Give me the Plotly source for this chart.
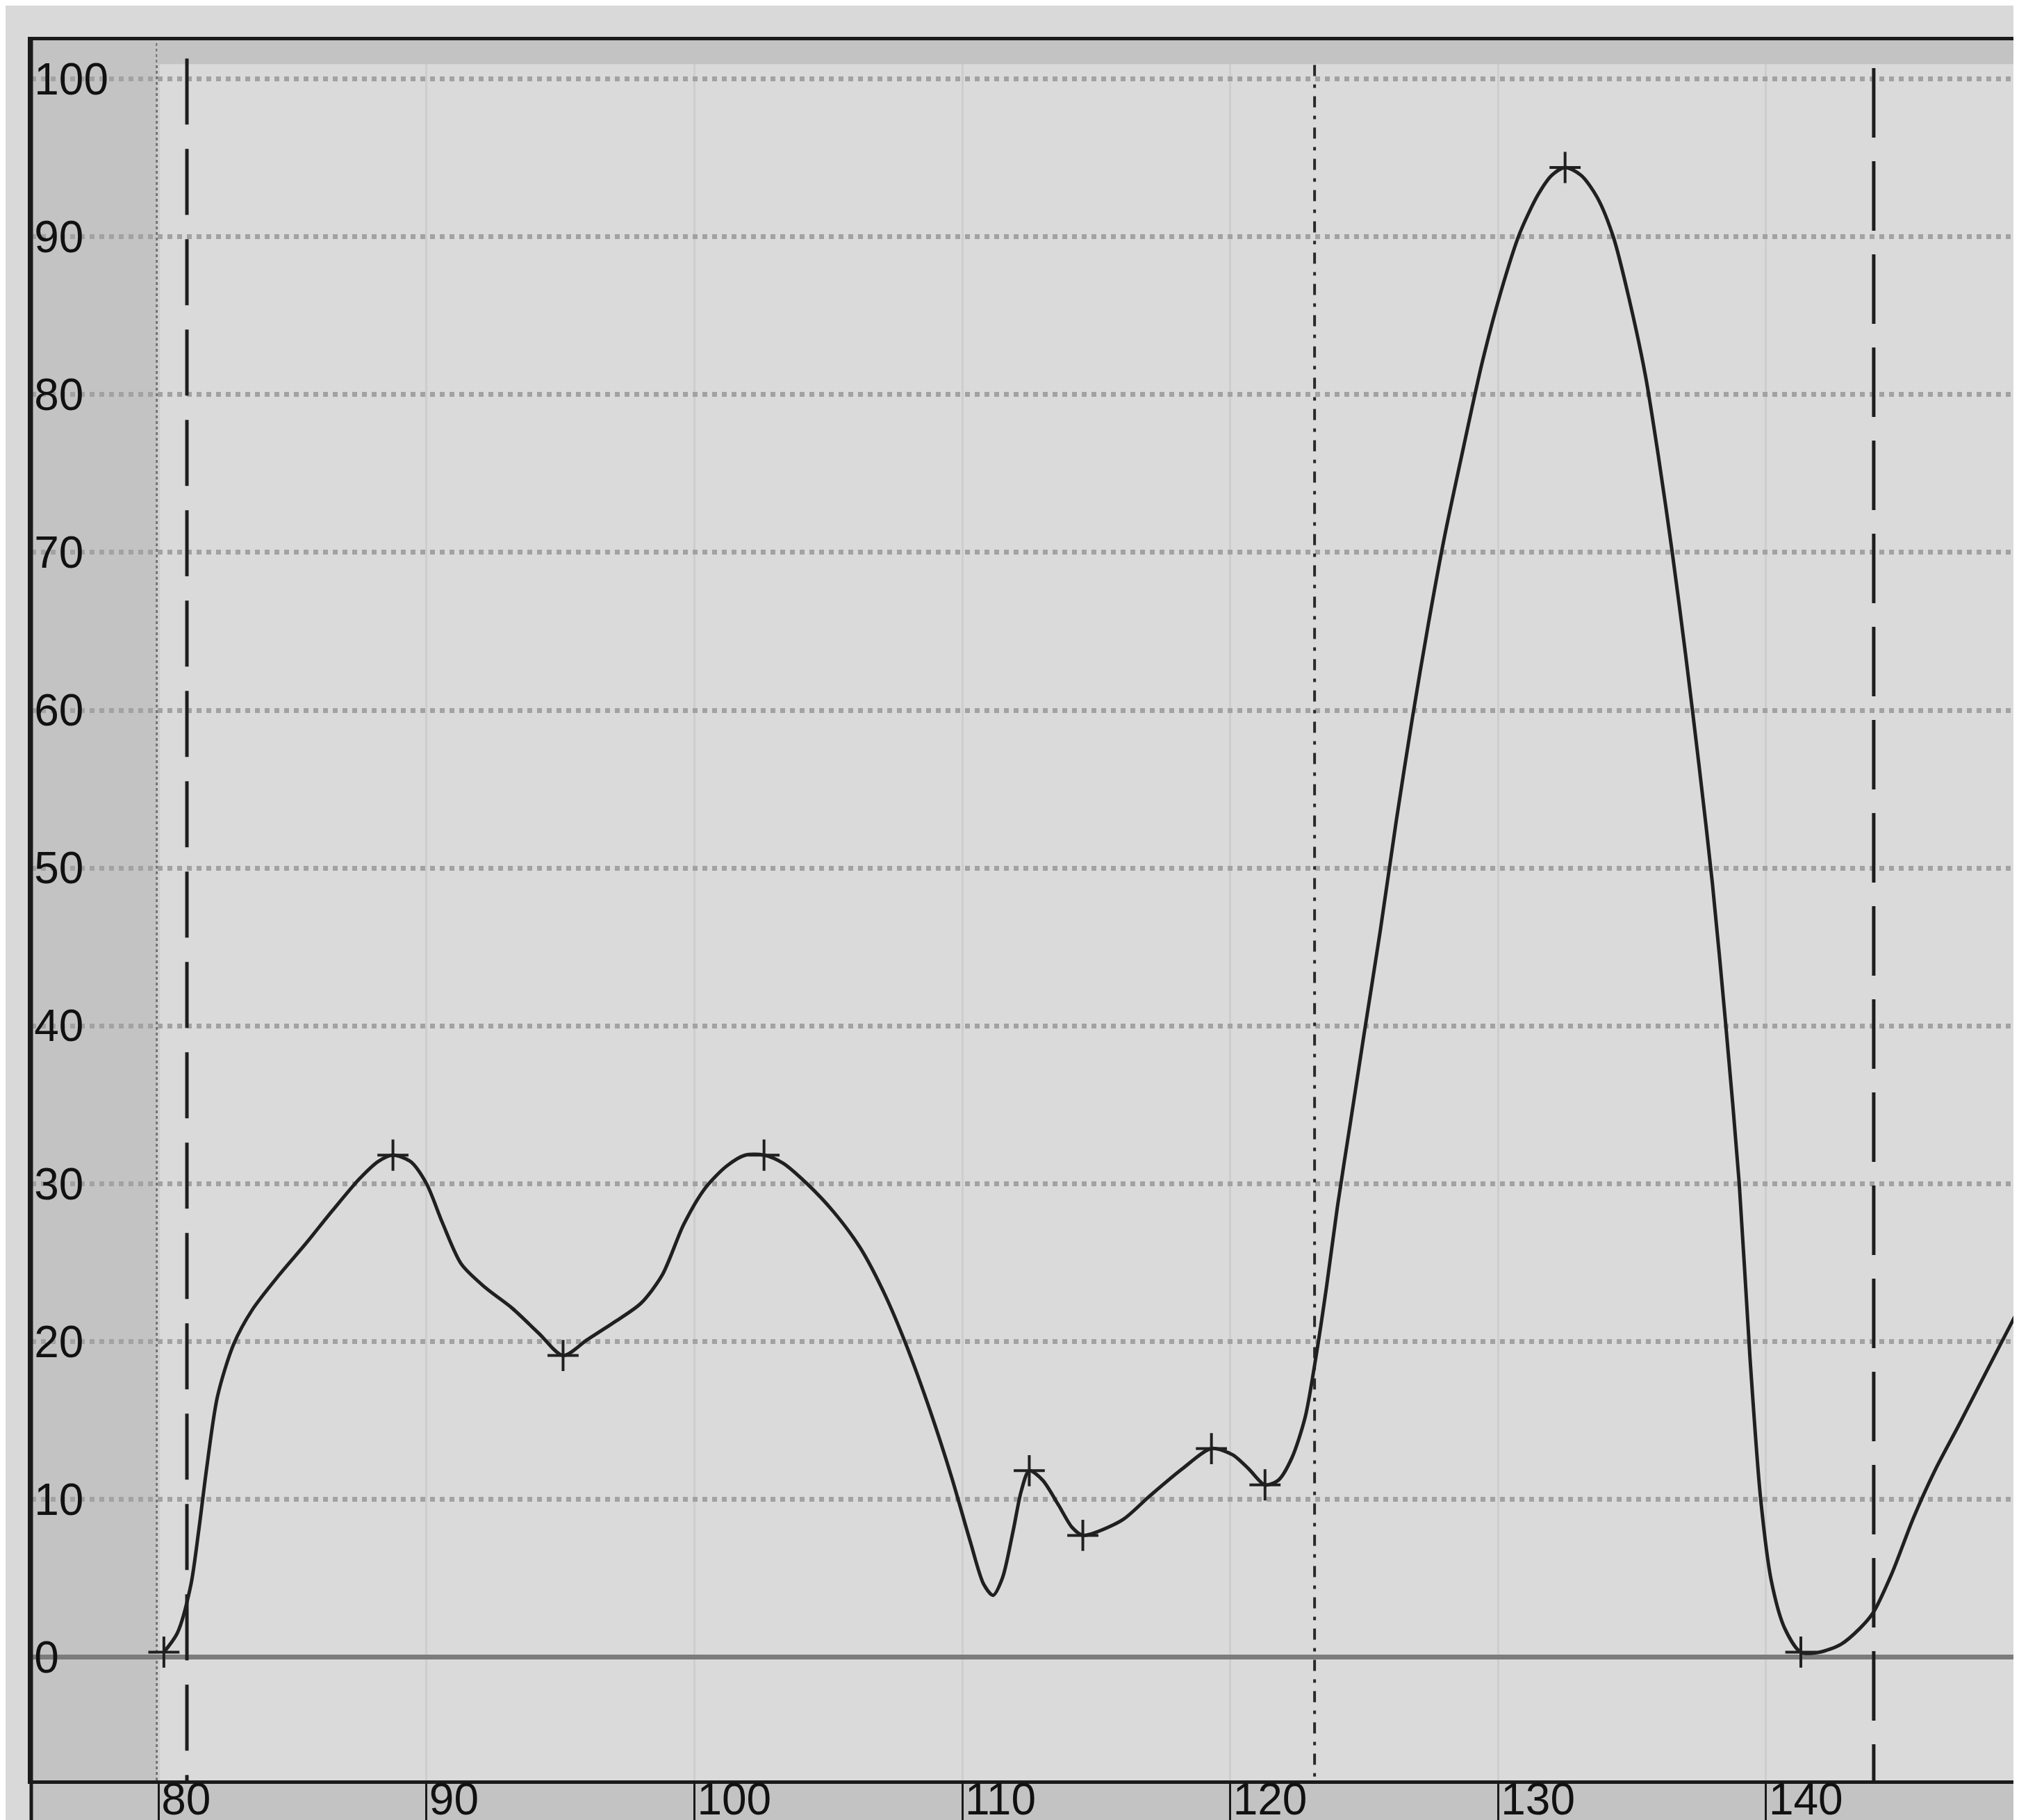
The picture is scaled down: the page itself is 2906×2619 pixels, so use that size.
import plotly.graph_objects as go

# ---- data ----
curve_x = [80.2, 80.7, 81.2, 81.5, 81.8, 82.2, 82.8, 83.5, 84.5, 85.5, 86.5, 87.5, 88.2, 88.75,
           89.4, 90.0, 90.6, 91.3, 92.2, 93.2, 94.2, 95.1, 96.0, 97.0, 98.0, 98.8, 99.6, 100.4,
           101.2, 101.9, 102.6, 103.3, 104.2, 105.2, 106.2, 107.1, 107.9, 108.8, 109.6, 110.3,
           110.8, 111.15, 111.5, 111.9, 112.2, 112.5, 113.0, 113.6, 114.1, 114.5, 115.0, 116.0,
           117.0, 118.2, 119.3, 120.1, 120.7, 121.3, 121.8, 122.3, 122.8, 123.2, 123.6, 124.0,
           124.5, 125.0, 125.6, 126.2, 126.8, 127.4, 128.0, 128.7, 129.4, 130.1, 130.8, 131.5,
           132.0, 132.5, 133.1, 133.7, 134.3, 134.9, 135.5, 136.0, 136.5, 137.0, 137.5, 138.0,
           138.5, 139.0, 139.4, 139.8, 140.2, 140.7, 141.3, 142.0, 142.8, 143.5, 144.0, 144.7,
           145.5, 146.3, 147.2, 148.2, 149.6]
curve_y = [0.3, 1.5, 4.5, 8.0, 12.0, 16.5, 19.8, 22.0, 24.2, 26.2, 28.3, 30.3, 31.4, 31.8,
           31.4, 30.0, 27.5, 24.9, 23.4, 22.1, 20.5, 19.1, 20.1, 21.2, 22.4, 24.2, 27.4, 29.7,
           31.1, 31.8, 31.8, 31.3, 30.0, 28.2, 25.9, 23.0, 19.8, 15.6, 11.4, 7.3,
           4.6, 3.9, 5.0, 8.0, 10.5, 11.8, 11.2, 9.6, 8.2, 7.7, 7.9, 8.7,
           10.2, 11.9, 13.2, 12.8, 11.9, 10.9, 11.2, 12.6, 15.2, 19.0, 23.5, 28.5,
           34.0, 39.5, 46.0, 53.0, 59.5, 65.5, 71.0, 76.6, 82.0, 86.5, 90.2, 92.7,
           93.9, 94.4, 93.9, 92.5, 90.0, 86.0, 81.2, 75.9, 70.0, 63.5, 56.5, 49.0,
           40.0, 30.0, 19.0, 10.0, 4.8, 1.8, 0.3, 0.3, 0.8, 1.8, 2.8, 5.3,
           8.8, 11.8, 14.7, 18.0, 22.6]

extrema_x = [80.2, 88.75, 95.1, 102.6, 112.5, 114.5, 119.3, 121.3, 132.5, 141.3]
extrema_y = [0.3, 31.8, 19.1, 31.8, 11.8, 7.7, 13.2, 10.9, 94.4, 0.3]

cursor_x = [81.06, 123.15, 144.02]
cursor_top = [101.3, 100.9, 100.7]

x_ticks = [80, 90, 100, 110, 120, 130, 140]
x_ticklabels = ["80", "90", "100", "110", "120", "130", "140"]
y_ticks = [0, 10, 20, 30, 40, 50, 60, 70, 80, 90, 100]
y_ticklabels = ["0", "10", "20", "30", "40", "50", "60", "70", "80", "90", "100"]

x_range = [75.25, 149.65]
y_range = [-7.83, 102.46]
inner_left = 79.95
top_band_bottom = 100.95

# ---- styles ----
INK = "#202020"
BG = "#d9d9d9"
HATCH = "#c3c3c3"
FONT = "Liberation Sans, Arial, sans-serif"

fig = go.Figure()

cursor_dash = ["95px,35px", "16px,12px,5px,12px", "100px,34px"]
cursor_width = [5, 4, 5]
cursor_color = ["#1e1e1e", "#2a2a2a", "#1e1e1e"]
for cx, ct, d, w, c in zip(cursor_x, cursor_top, cursor_dash, cursor_width, cursor_color):
    fig.add_trace(go.Scatter(x=[cx, cx], y=[ct, y_range[0]], mode="lines",
                             line=dict(color=c, width=w, dash=d),
                             hoverinfo="skip", showlegend=False, cliponaxis=True))

fig.add_trace(go.Scatter(x=curve_x, y=curve_y, mode="lines",
                         line=dict(color=INK, width=5, shape="spline", smoothing=0.8),
                         showlegend=False))
fig.add_trace(go.Scatter(x=extrema_x, y=extrema_y, mode="markers",
                         marker=dict(symbol="cross-thin", size=32,
                                     line=dict(color=INK, width=4)),
                         showlegend=False))

# y-axis band (hatched area)
fig.add_shape(type="rect", xref="x", yref="paper", x0=x_range[0], x1=inner_left, y0=0, y1=1,
              fillcolor=HATCH, line=dict(width=0), layer="between")
# top band
fig.add_shape(type="rect", xref="x", yref="y", x0=inner_left, x1=x_range[1],
              y0=top_band_bottom, y1=y_range[1],
              fillcolor=HATCH, line=dict(width=0), layer="between")
# dotted separator of the y band
fig.add_shape(type="line", xref="x", yref="paper", x0=inner_left, x1=inner_left, y0=0, y1=1,
              line=dict(color="#6e6e6e", width=4, dash="dot"), layer="between")
# bottom band (x label area)
fig.add_shape(type="rect", xref="paper", yref="paper", x0=0, x1=1, y0=-0.04, y1=0,
              fillcolor=HATCH, line=dict(width=0), layer="below")
# left frame line extension through bottom band
fig.add_shape(type="line", xref="paper", yref="paper", x0=0, x1=0, y0=-0.04, y1=1,
              line=dict(color="#1a1a1a", width=5), layer="above")

fig.update_layout(
    width=2906, height=2619,
    margin=dict(l=37, r=0, t=50, b=65, pad=0),
    paper_bgcolor=BG, plot_bgcolor="#dadada",
    font=dict(family=FONT, size=64, color="#111111"),
    showlegend=False,
    xaxis=dict(range=x_range, tickmode="array", tickvals=x_ticks, ticktext=x_ticklabels,
               ticks="outside", ticklen=65, tickwidth=3, tickcolor="#1a1a1a",
               ticklabelposition="outside right", ticklabelstandoff=-33,
               showgrid=True, gridcolor="#cdcdcd", gridwidth=3,
               showline=True, linecolor="#1a1a1a", linewidth=5, mirror=True,
               zeroline=False, tickfont=dict(family=FONT, size=64, color="#111111")),
    yaxis=dict(range=y_range, tickmode="array", tickvals=y_ticks, ticktext=y_ticklabels,
               ticks="", ticklabelposition="inside", ticklabelstandoff=14,
               showgrid=True, gridcolor="#a2a2a2", gridwidth=7, griddash="dot",
               zeroline=True, zerolinecolor="#7c7c7c", zerolinewidth=7,
               showline=True, linecolor="#1a1a1a", linewidth=5, mirror=False,
               tickfont=dict(family=FONT, size=64, color="#111111")),
)

fig.write_html("out.html")
